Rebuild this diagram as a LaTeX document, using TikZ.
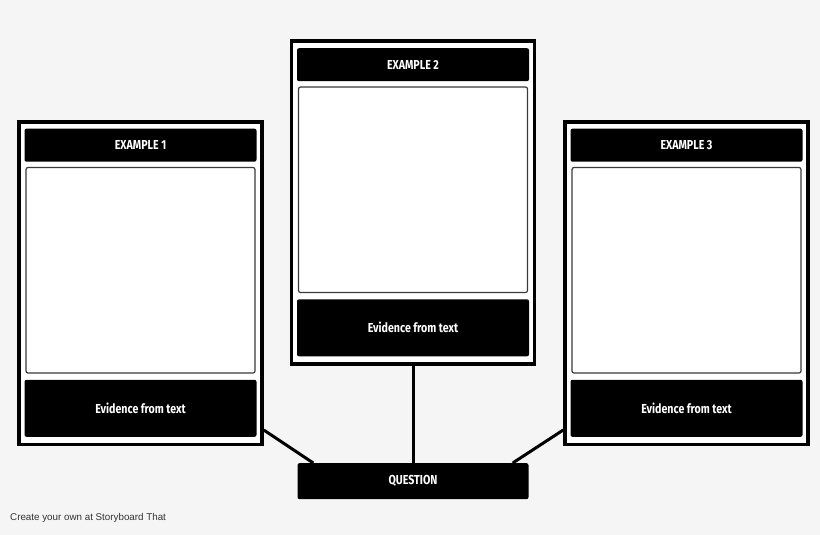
\documentclass[tikz,border=0pt]{standalone}
\usepackage{fontspec}
\usepackage{tikz}
\usetikzlibrary{positioning}
\newfontfamily\boardfont[FakeStretch=0.82]{Fira Sans}
\newfontfamily\footfont{Liberation Sans}
\definecolor{pagegray}{HTML}{F5F5F5}
\definecolor{framegray}{HTML}{3A3A3A}

\begin{document}
\begin{tikzpicture}[x=1pt, y=-1pt,
    card/.style = {draw, line width=3.5pt, fill=white, minimum width=243pt, minimum height=322.5pt, inner sep=0pt},
    bar/.style = {fill=black, rounded corners=2pt, text=white, inner sep=0pt,
        font=\boardfont\bfseries\fontsize{13}{15}\selectfont, minimum width=232pt},
    titlebar/.style = {bar, minimum height=33pt},
    evbar/.style = {bar, minimum height=57pt},
    picbox/.style = {draw=framegray, line width=1.2pt, fill=white, rounded corners=2pt, minimum width=229pt, minimum height=205.5pt, inner sep=0pt},
    link/.style = {line width=3pt}]
        \fill[pagegray] (0,0) rectangle (820,535);
        % three example cards
        \node[card] (c1) at (140.5,283) {};
        \node[titlebar, below=8.5pt of c1.north] (t1) {EXAMPLE 1};
        \node[picbox, below=5pt of t1] (p1) {};
        \node[evbar, below=6pt of p1] (e1) {Evidence from text};
        \node[card] (c2) at (413,202.5) {};
        \node[titlebar, below=8.5pt of c2.north] (t2) {EXAMPLE 2};
        \node[picbox, below=5pt of t2] (p2) {};
        \node[evbar, below=6pt of p2] (e2) {Evidence from text};
        \node[card] (c3) at (686.5,283) {};
        \node[titlebar, below=8.5pt of c3.north] (t3) {EXAMPLE 3};
        \node[picbox, below=5pt of t3] (p3) {};
        \node[evbar, below=6pt of p3] (e3) {Evidence from text};
        % question
        \node[bar, minimum width=231pt, minimum height=36pt, below=97.5pt of c2] (q) {QUESTION};
        \draw[link] ([yshift=16pt]c1.south east) -- ([xshift=16pt]q.north west);
        \draw[link] (c2.south) -- (q.north);
        \draw[link] ([yshift=16pt]c3.south west) -- ([xshift=-16pt]q.north east);
        \node[anchor=base west, inner sep=0pt, text=black!80, font=\footfont\fontsize{9.8}{11}\selectfont] (credit) at (10,520) {Create your own at Storyboard That};
    \end{tikzpicture}
\end{document}
